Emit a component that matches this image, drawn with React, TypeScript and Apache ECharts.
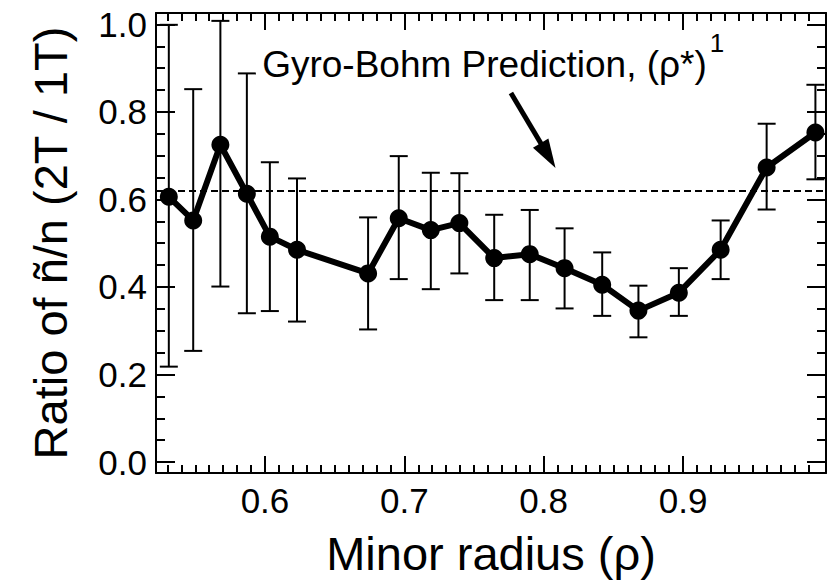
import React, { useEffect, useRef } from "react";
import * as echarts from "echarts";

// Normalized minor radius of each measurement
const radius = [
  0.531, 0.5485, 0.568, 0.587, 0.6035, 0.623, 0.674, 0.696, 0.719, 0.7395,
  0.7645, 0.79, 0.815, 0.842, 0.868, 0.897, 0.927, 0.96, 0.995,
];
// Fluctuation ratio (2T / 1T)
const ratio = [
  0.606, 0.552, 0.725, 0.613, 0.515, 0.485, 0.431, 0.557, 0.53, 0.546,
  0.466, 0.475, 0.443, 0.405, 0.346, 0.387, 0.485, 0.673, 0.753,
];
// Error bar ends
const ratioHigh = [
  0.999, 0.852, 1.008, 0.888, 0.685, 0.648, 0.559, 0.699, 0.661, 0.66,
  0.565, 0.576, 0.534, 0.479, 0.403, 0.443, 0.552, 0.773, 0.862,
];
const ratioLow = [
  0.218, 0.254, 0.401, 0.34, 0.345, 0.321, 0.303, 0.418, 0.395, 0.431,
  0.37, 0.37, 0.351, 0.334, 0.285, 0.334, 0.418, 0.577, 0.646,
];
// Gyro-Bohm scaling prediction
const gyroBohm = 0.62;

const xMajorTicks = [0.6, 0.7, 0.8, 0.9];
const yMajorTicks = [0.0, 0.2, 0.4, 0.6, 0.8, 1.0];
const xMinorTicks: number[] = [];
for (let k = 53; k <= 99; k++) xMinorTicks.push(k / 100);
const yMinorTicks: number[] = [];
for (let k = 0; k <= 20; k++) yMinorTicks.push(k / 20);

const X_MIN = 0.5218;
const X_MAX = 1.0026;
const Y_MIN = -0.025;
const Y_MAX = 1.026;

const FONT = '"Liberation Sans", Arial, Helvetica, sans-serif';
const INK = "#000";
const TICK_FONT = 35;

// Annotation placement in data units
const noteAt: [number, number] = [0.598, 0.878];
const arrowTail: [number, number] = [0.7765, 0.843];
const arrowTip: [number, number] = [0.8085, 0.672];

function xAxisDef(position: "top" | "bottom", ticks: number[], len: number, line: boolean, labels: boolean) {
  return {
    type: "value",
    position,
    min: X_MIN,
    max: X_MAX,
    axisLine: { show: line, onZero: false, lineStyle: { color: INK, width: 2 } },
    axisTick: { show: true, inside: true, length: len, customValues: ticks, lineStyle: { color: INK, width: 2 } },
    axisLabel: labels
      ? {
          show: true,
          customValues: ticks,
          formatter: (v: number) => v.toFixed(1),
          color: INK,
          fontSize: TICK_FONT,
          fontFamily: FONT,
          margin: 10,
        }
      : { show: false },
    splitLine: { show: false },
  };
}

function yAxisDef(position: "left" | "right", ticks: number[], len: number, line: boolean, labels: boolean) {
  return {
    type: "value",
    position,
    min: Y_MIN,
    max: Y_MAX,
    axisLine: { show: line, onZero: false, lineStyle: { color: INK, width: 2 } },
    axisTick: { show: true, inside: true, length: len, customValues: ticks, lineStyle: { color: INK, width: 2 } },
    axisLabel: labels
      ? {
          show: true,
          customValues: ticks,
          formatter: (v: number) => v.toFixed(1),
          color: INK,
          fontSize: TICK_FONT,
          fontFamily: FONT,
          margin: 9,
        }
      : { show: false },
    splitLine: { show: false },
  };
}

export default function App() {
  const ref = useRef<HTMLDivElement>(null);

  useEffect(() => {
    if (!ref.current) return;
    const chart = echarts.init(ref.current, undefined, { renderer: "svg" });

    const bottomMain: any = xAxisDef("bottom", xMajorTicks, 17, true, true);
    bottomMain.name = "Minor radius (ρ)";
    bottomMain.nameLocation = "middle";
    bottomMain.nameGap = 57;
    bottomMain.nameTextStyle = { color: INK, fontSize: 47, fontFamily: FONT };

    const leftMain: any = yAxisDef("left", yMajorTicks, 19, true, true);
    leftMain.name = "Ratio of ñ/n (2T / 1T)";
    leftMain.nameLocation = "middle";
    leftMain.nameGap = 82;
    leftMain.nameTextStyle = { color: INK, fontSize: 47, fontFamily: FONT };

    chart.setOption({
      animation: false,
      backgroundColor: "#fff",
      grid: { left: 156, right: 14, top: 13, bottom: 109, containLabel: false },
      xAxis: [
        bottomMain,
        xAxisDef("bottom", xMinorTicks, 8, false, false),
        xAxisDef("top", xMajorTicks, 17, true, false),
        xAxisDef("top", xMinorTicks, 8, false, false),
      ],
      yAxis: [
        leftMain,
        yAxisDef("left", yMinorTicks, 9, false, false),
        yAxisDef("right", yMajorTicks, 19, true, false),
        yAxisDef("right", yMinorTicks, 9, false, false),
      ],
      series: [
        {
          type: "custom",
          name: "error",
          xAxisIndex: 0,
          yAxisIndex: 0,
          z: 2,
          encode: { x: 0, y: [1, 2] },
          data: radius.map((x, i) => [x, ratioLow[i], ratioHigh[i]]),
          renderItem: (_params: any, api: any) => {
            const x = api.value(0);
            const lo = api.coord([x, api.value(1)]);
            const hi = api.coord([x, api.value(2)]);
            const half = 9;
            const style = { stroke: INK, lineWidth: 2, fill: "none" };
            return {
              type: "group",
              children: [
                { type: "line", shape: { x1: lo[0], y1: lo[1], x2: hi[0], y2: hi[1] }, style },
                { type: "line", shape: { x1: hi[0] - half, y1: hi[1], x2: hi[0] + half, y2: hi[1] }, style },
                { type: "line", shape: { x1: lo[0] - half, y1: lo[1], x2: lo[0] + half, y2: lo[1] }, style },
              ],
            };
          },
        },
        {
          type: "line",
          name: "ratio",
          xAxisIndex: 0,
          yAxisIndex: 0,
          z: 3,
          data: radius.map((x, i) => [x, ratio[i]]),
          symbol: "circle",
          symbolSize: 18,
          itemStyle: { color: INK },
          lineStyle: { color: INK, width: 6 },
          markLine: {
            silent: true,
            symbol: ["none", "none"],
            label: { show: false },
            lineStyle: { color: INK, width: 2, type: [7, 4] },
            data: [{ yAxis: gyroBohm }],
          },
        },
      ],
    });

    const px = (p: [number, number]) =>
      chart.convertToPixel({ xAxisIndex: 0, yAxisIndex: 0 }, p) as number[];
    const note = px(noteAt);
    const tail = px(arrowTail);
    const tip = px(arrowTip);
    const dx = tip[0] - tail[0];
    const dy = tip[1] - tail[1];
    const len = Math.hypot(dx, dy);
    const ux = dx / len;
    const uy = dy / len;
    const headLen = 29;
    const headHalf = 9;
    const bx = tip[0] - ux * headLen;
    const by = tip[1] - uy * headLen;

    const noteFont = 37;
    const mainText = "Gyro-Bohm Prediction, (ρ*)";
    const mainWidth = (echarts.format as any).getTextRect
      ? (echarts.format as any).getTextRect(mainText, `${noteFont}px ${FONT}`).width
      : 440;

    chart.setOption({
      graphic: [
        {
          type: "text",
          x: note[0],
          y: note[1] - noteFont * 0.35,
          style: {
            text: mainText,
            font: `${noteFont}px ${FONT}`,
            fill: INK,
            align: "left",
            verticalAlign: "middle",
          },
          z: 10,
        },
        {
          type: "text",
          x: note[0] + mainWidth + 3,
          y: note[1] - noteFont * 0.35 - 22,
          style: {
            text: "1",
            font: `26px ${FONT}`,
            fill: INK,
            align: "left",
            verticalAlign: "middle",
          },
          z: 10,
        },
        {
          type: "line",
          shape: { x1: tail[0], y1: tail[1], x2: bx + ux * 2, y2: by + uy * 2 },
          style: { stroke: INK, lineWidth: 5 },
          z: 10,
        },
        {
          type: "polygon",
          shape: {
            points: [
              [tip[0], tip[1]],
              [bx - uy * headHalf, by + ux * headHalf],
              [bx + uy * headHalf, by - ux * headHalf],
            ],
          },
          style: { fill: INK },
          z: 10,
        },
      ],
    });

    return () => chart.dispose();
  }, []);

  return (
    <div
      ref={ref}
      style={{ position: "absolute", left: 0, top: 0, width: 840, height: 582, background: "#fff" }}
    />
  );
}
